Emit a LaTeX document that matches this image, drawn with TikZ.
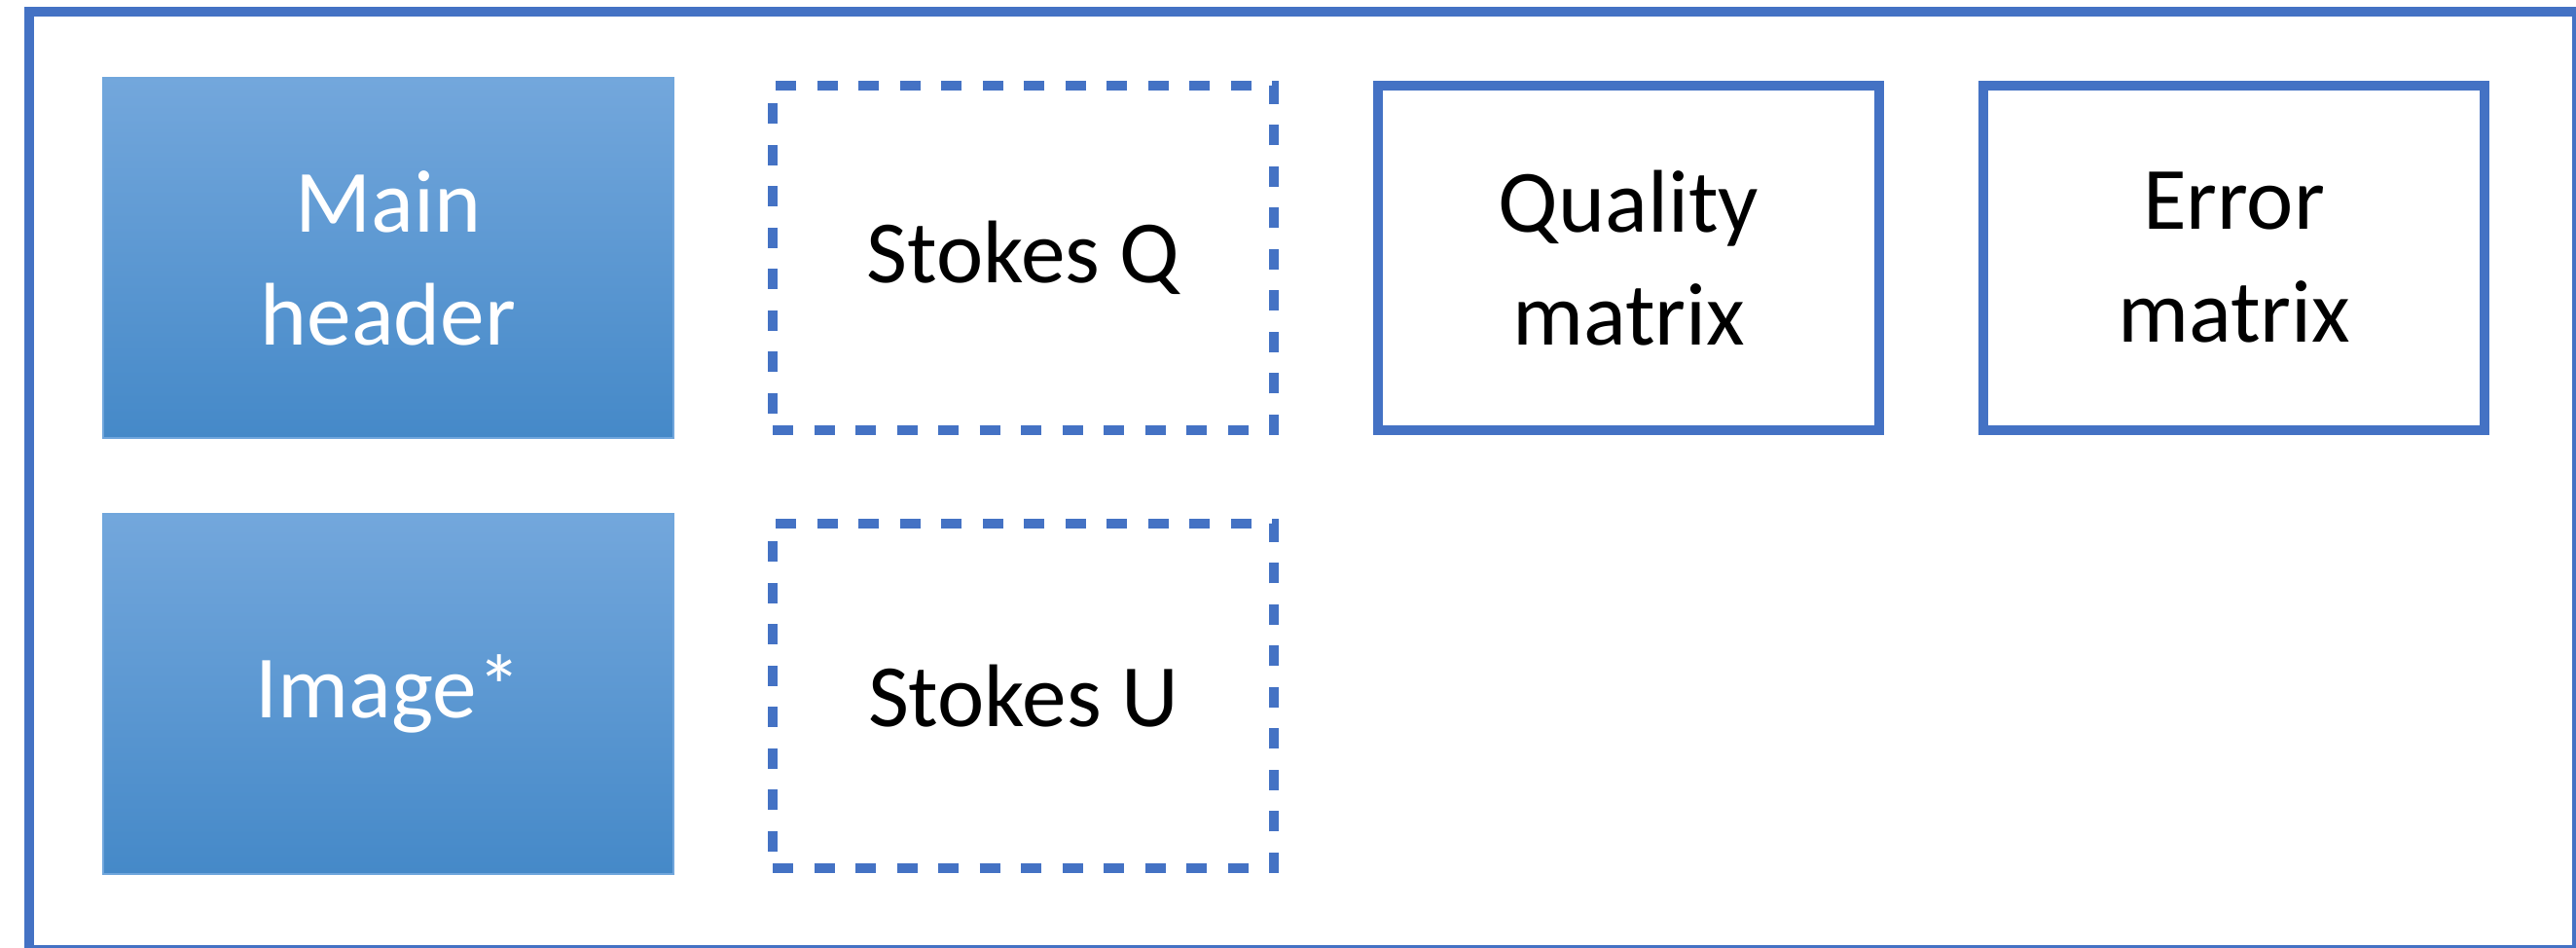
\documentclass[tikz,border=0pt]{standalone}
\usepackage{fontspec}
\setmainfont{Carlito}
\usepackage{tikz}
\usetikzlibrary{positioning}
\definecolor{FrameBlue}{RGB}{68, 114, 196}
\definecolor{HeadTop}{RGB}{115, 167, 220}
\definecolor{HeadBottom}{RGB}{69, 137, 200}
\definecolor{HeadEdge}{RGB}{112, 166, 220}

\begin{document}
\begin{tikzpicture}[node distance=1.07cm, font=\fontsize{26}{33}\selectfont]
        \tikzstyle{header} = [rectangle, minimum width=5.86cm, minimum height=3.70cm, outer sep=0pt, align=center, draw=HeadEdge, line width=0.6pt, top color=HeadTop, bottom color=HeadBottom, text=white]
        \tikzstyle{stokes} = [rectangle, minimum width=5.15cm, minimum height=3.54cm, outer sep=0pt, align=center, draw=FrameBlue, line width=2.85pt, dash pattern=on 0.21cm off 0.215cm]
        \tikzstyle{matrixbox} = [rectangle, minimum width=5.15cm, minimum height=3.54cm, outer sep=0pt, align=center, draw=FrameBlue, line width=2.85pt]

        \useasboundingbox (0,0) rectangle (26.47,9.74);

        % Outer frame
        \draw [FrameBlue, line width=2.85pt] (0.30,-0.02) rectangle (26.48,9.62);

        % Nodes
        \node (main) [header] at (3.99,7.09) {Main\\header};
        \node (image) [header, below=0.78cm of main] {Image*};
        \node (stokesq) [stokes, right=1.02cm of main] {Stokes Q};
        \node (stokesu) [stokes, below=0.96cm of stokesq] {Stokes U};
        \node (quality) [matrixbox, right=of stokesq] {Quality\\matrix};
        \node (error) [matrixbox, right=of quality] {Error\\matrix};
    \end{tikzpicture}
\end{document}
